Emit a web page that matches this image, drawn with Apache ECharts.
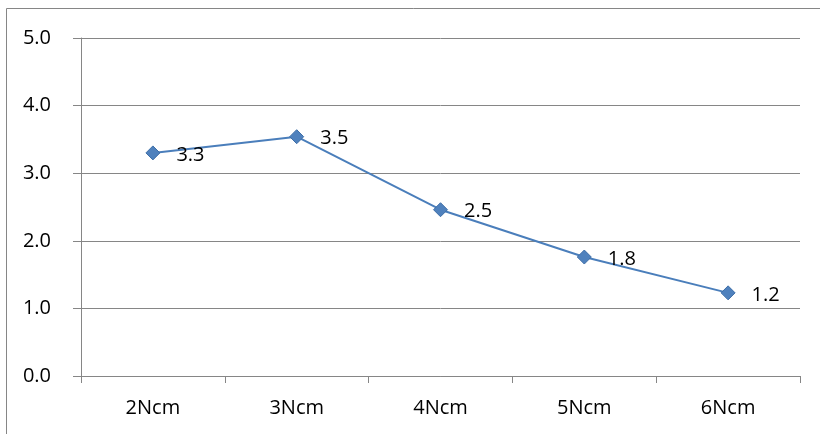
<!DOCTYPE html>
<html>
<head>
<meta charset="utf-8">
<script src="https://cdn.jsdelivr.net/npm/echarts@6/dist/echarts.min.js"></script>
<style>
  html, body { margin: 0; padding: 0; background: #fff; }
  #chart { width: 820px; height: 434px; }
</style>
</head>
<body>
<div id="chart"></div>
<script>
// Torque settings along the x axis and the measured response for each
const categories = ['2Ncm', '3Ncm', '4Ncm', '5Ncm', '6Ncm'];
const values = [3.30, 3.54, 2.46, 1.76, 1.23];
const yTicks = [0, 1, 2, 3, 4, 5];

const FONT = '"Open Sans", "Noto Sans", sans-serif';
const AXIS_GRAY = '#868686';

const chart = echarts.init(document.getElementById('chart'), null, { renderer: 'canvas' });

chart.setOption({
  animation: false,
  backgroundColor: '#ffffff',
  textStyle: { fontFamily: FONT },
  graphic: [{
    type: 'rect',
    shape: { x: 6.5, y: 8.5, width: 1000, height: 600 },
    style: { fill: 'none', stroke: AXIS_GRAY, lineWidth: 1 },
    silent: true
  }],
  grid: { left: 81, right: 20, top: 38, bottom: 58, containLabel: false },
  xAxis: {
    type: 'category',
    data: categories,
    boundaryGap: true,
    axisLine: { show: true, lineStyle: { color: AXIS_GRAY, width: 1 } },
    axisTick: { show: true, alignWithLabel: false, length: 7, lineStyle: { color: AXIS_GRAY } },
    axisLabel: { color: '#000', fontSize: 20, fontFamily: FONT, margin: 22 },
    splitLine: { show: false }
  },
  yAxis: {
    type: 'value',
    min: yTicks[0],
    max: yTicks[yTicks.length - 1],
    interval: 1,
    axisLine: { show: true, lineStyle: { color: AXIS_GRAY, width: 1 } },
    axisTick: { show: true, inside: false, length: 8, lineStyle: { color: AXIS_GRAY } },
    axisLabel: {
      color: '#000', fontSize: 20, fontFamily: FONT, margin: 30,
      formatter: v => v.toFixed(1)
    },
    splitLine: { show: true, lineStyle: { color: AXIS_GRAY, width: 1 } }
  },
  series: [{
    type: 'line',
    data: values,
    symbol: 'diamond',
    symbolSize: [14, 14],
    lineStyle: { color: '#4A7EBB', width: 2 },
    itemStyle: { color: '#4F81BD', borderColor: '#3F6FA8', borderWidth: 1 },
    label: {
      show: true,
      position: 'right',
      distance: 16,
      offset: [0, 2],
      color: '#000',
      fontSize: 20,
      fontFamily: FONT,
      formatter: p => p.value.toFixed(1)
    }
  }]
});
</script>
</body>
</html>
